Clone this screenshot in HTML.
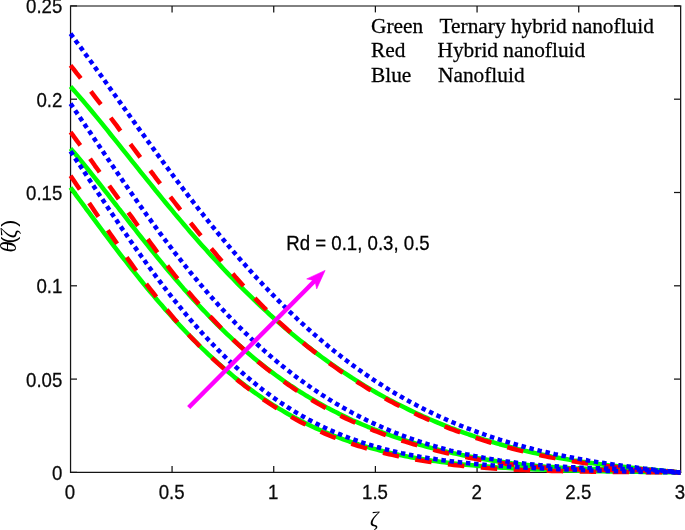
<!DOCTYPE html>
<html><head><meta charset="utf-8"><title>plot</title>
<style>html,body{margin:0;padding:0;background:#fff;overflow:hidden}svg{display:block}</style></head>
<body>
<svg width="685" height="530" viewBox="0 0 685 530">
<rect width="685" height="530" fill="#fff"/>
<g stroke="#141414" stroke-width="1.25" fill="none">
<line x1="70.55" y1="5.4" x2="70.55" y2="473.1"/>
<line x1="680.65" y1="5.4" x2="680.65" y2="473.1"/>
<line x1="70" y1="472.45" x2="681.2" y2="472.45"/>
</g>
<line x1="70" y1="5.95" x2="681.2" y2="5.95" stroke="#262626" stroke-opacity="0.58" stroke-width="2"/>
<g stroke="#141414" stroke-width="1.25">
<line x1="172.07" y1="472" x2="172.07" y2="466"/>
<line x1="172.07" y1="6" x2="172.07" y2="12.4"/>
<line x1="273.73" y1="472" x2="273.73" y2="466"/>
<line x1="273.73" y1="6" x2="273.73" y2="12.4"/>
<line x1="375.40" y1="472" x2="375.40" y2="466"/>
<line x1="375.40" y1="6" x2="375.40" y2="12.4"/>
<line x1="477.07" y1="472" x2="477.07" y2="466"/>
<line x1="477.07" y1="6" x2="477.07" y2="12.4"/>
<line x1="578.73" y1="472" x2="578.73" y2="466"/>
<line x1="578.73" y1="6" x2="578.73" y2="12.4"/>
<line x1="71" y1="472.40" x2="77" y2="472.40"/>
<line x1="680" y1="472.40" x2="674" y2="472.40"/>
<line x1="71" y1="379.10" x2="77" y2="379.10"/>
<line x1="680" y1="379.10" x2="674" y2="379.10"/>
<line x1="71" y1="285.80" x2="77" y2="285.80"/>
<line x1="680" y1="285.80" x2="674" y2="285.80"/>
<line x1="71" y1="192.50" x2="77" y2="192.50"/>
<line x1="680" y1="192.50" x2="674" y2="192.50"/>
<line x1="71" y1="99.20" x2="77" y2="99.20"/>
<line x1="680" y1="99.20" x2="674" y2="99.20"/>
<line x1="71" y1="5.90" x2="77" y2="5.90"/>
<line x1="680" y1="5.90" x2="674" y2="5.90"/>
</g>
<g fill="none" stroke-linejoin="round">
<path d="M70.5 187.5 L73.6 191.7 L76.6 195.8 L79.7 200.0 L82.8 204.1 L85.8 208.3 L88.9 212.4 L92.0 216.6 L95.0 220.7 L98.1 224.8 L101.2 229.0 L104.2 233.1 L107.3 237.1 L110.3 241.2 L113.4 245.3 L116.5 249.3 L119.5 253.3 L122.6 257.3 L125.7 261.2 L128.7 265.1 L131.8 269.0 L134.9 272.9 L137.9 276.7 L141.0 280.5 L144.1 284.3 L147.1 288.0 L150.2 291.7 L153.3 295.4 L156.3 299.0 L159.4 302.6 L162.5 306.1 L165.5 309.7 L168.6 313.1 L171.7 316.5 L174.7 319.9 L177.8 323.3 L180.9 326.6 L183.9 329.8 L187.0 333.0 L190.0 336.2 L193.1 339.3 L196.2 342.4 L199.2 345.5 L202.3 348.5 L205.4 351.4 L208.4 354.3 L211.5 357.2 L214.6 360.0 L217.6 362.7 L220.7 365.4 L223.8 368.1 L226.8 370.7 L229.9 373.3 L233.0 375.9 L236.0 378.4 L239.1 380.8 L242.2 383.2 L245.2 385.6 L248.3 387.9 L251.4 390.1 L254.4 392.4 L257.5 394.5 L260.6 396.7 L263.6 398.8 L266.7 400.8 L269.7 402.8 L272.8 404.8 L275.9 406.7 L278.9 408.6 L282.0 410.4 L285.1 412.2 L288.1 414.0 L291.2 415.7 L294.3 417.4 L297.3 419.0 L300.4 420.6 L303.5 422.2 L306.5 423.7 L309.6 425.2 L312.7 426.7 L315.7 428.1 L318.8 429.5 L321.9 430.8 L324.9 432.1 L328.0 433.4 L331.1 434.7 L334.1 435.9 L337.2 437.0 L340.2 438.2 L343.3 439.3 L346.4 440.4 L349.4 441.5 L352.5 442.5 L355.6 443.5 L358.6 444.5 L361.7 445.4 L364.8 446.3 L367.8 447.2 L370.9 448.1 L374.0 448.9 L377.0 449.7 L380.1 450.5 L383.2 451.3 L386.2 452.0 L389.3 452.7 L392.4 453.4 L395.4 454.1 L398.5 454.8 L401.6 455.4 L404.6 456.0 L407.7 456.6 L410.8 457.2 L413.8 457.7 L416.9 458.3 L419.9 458.8 L423.0 459.3 L426.1 459.8 L429.1 460.2 L432.2 460.7 L435.3 461.1 L438.3 461.5 L441.4 461.9 L444.5 462.3 L447.5 462.7 L450.6 463.1 L453.7 463.4 L456.7 463.8 L459.8 464.1 L462.9 464.4 L465.9 464.7 L469.0 465.0 L472.1 465.3 L475.1 465.6 L478.2 465.9 L481.3 466.1 L484.3 466.4 L487.4 466.6 L490.4 466.8 L493.5 467.0 L496.6 467.3 L499.6 467.5 L502.7 467.7 L505.8 467.8 L508.8 468.0 L511.9 468.2 L515.0 468.4 L518.0 468.5 L521.1 468.7 L524.2 468.8 L527.2 469.0 L530.3 469.1 L533.4 469.3 L536.4 469.4 L539.5 469.5 L542.6 469.6 L545.6 469.8 L548.7 469.9 L551.8 470.0 L554.8 470.1 L557.9 470.2 L561.0 470.3 L564.0 470.4 L567.1 470.5 L570.1 470.5 L573.2 470.6 L576.3 470.7 L579.3 470.8 L582.4 470.9 L585.5 470.9 L588.5 471.0 L591.6 471.1 L594.7 471.1 L597.7 471.2 L600.8 471.2 L603.9 471.3 L606.9 471.4 L610.0 471.4 L613.1 471.5 L616.1 471.5 L619.2 471.6 L622.3 471.6 L625.3 471.7 L628.4 471.7 L631.5 471.8 L634.5 471.8 L637.6 471.8 L640.7 471.9 L643.7 471.9 L646.8 472.0 L649.8 472.0 L652.9 472.1 L656.0 472.1 L659.0 472.1 L662.1 472.2 L665.2 472.2 L668.2 472.3 L671.3 472.3 L674.4 472.4 L677.4 472.4 L680.5 472.5" stroke="#00ff00" stroke-width="4.5"/>
<path d="M70.5 148.4 L73.6 151.9 L76.6 155.5 L79.7 159.2 L82.8 162.9 L85.8 166.7 L88.9 170.5 L92.0 174.3 L95.0 178.1 L98.1 182.0 L101.2 185.9 L104.2 189.8 L107.3 193.7 L110.3 197.7 L113.4 201.6 L116.5 205.5 L119.5 209.5 L122.6 213.4 L125.7 217.4 L128.7 221.3 L131.8 225.3 L134.9 229.2 L137.9 233.1 L141.0 237.0 L144.1 240.8 L147.1 244.7 L150.2 248.5 L153.3 252.3 L156.3 256.1 L159.4 259.9 L162.5 263.6 L165.5 267.3 L168.6 271.0 L171.7 274.6 L174.7 278.2 L177.8 281.8 L180.9 285.4 L183.9 288.9 L187.0 292.3 L190.0 295.8 L193.1 299.2 L196.2 302.5 L199.2 305.8 L202.3 309.1 L205.4 312.3 L208.4 315.5 L211.5 318.7 L214.6 321.8 L217.6 324.9 L220.7 327.9 L223.8 330.9 L226.8 333.8 L229.9 336.7 L233.0 339.6 L236.0 342.4 L239.1 345.2 L242.2 347.9 L245.2 350.6 L248.3 353.2 L251.4 355.9 L254.4 358.4 L257.5 360.9 L260.6 363.4 L263.6 365.8 L266.7 368.2 L269.7 370.6 L272.8 372.9 L275.9 375.2 L278.9 377.4 L282.0 379.6 L285.1 381.8 L288.1 383.9 L291.2 386.0 L294.3 388.0 L297.3 390.0 L300.4 392.0 L303.5 393.9 L306.5 395.8 L309.6 397.6 L312.7 399.5 L315.7 401.3 L318.8 403.0 L321.9 404.7 L324.9 406.4 L328.0 408.1 L331.1 409.7 L334.1 411.3 L337.2 412.8 L340.2 414.4 L343.3 415.8 L346.4 417.3 L349.4 418.8 L352.5 420.2 L355.6 421.5 L358.6 422.9 L361.7 424.2 L364.8 425.5 L367.8 426.8 L370.9 428.0 L374.0 429.3 L377.0 430.4 L380.1 431.6 L383.2 432.8 L386.2 433.9 L389.3 435.0 L392.4 436.1 L395.4 437.1 L398.5 438.1 L401.6 439.2 L404.6 440.1 L407.7 441.1 L410.8 442.1 L413.8 443.0 L416.9 443.9 L419.9 444.8 L423.0 445.6 L426.1 446.5 L429.1 447.3 L432.2 448.1 L435.3 448.9 L438.3 449.7 L441.4 450.4 L444.5 451.2 L447.5 451.9 L450.6 452.6 L453.7 453.3 L456.7 453.9 L459.8 454.6 L462.9 455.2 L465.9 455.8 L469.0 456.4 L472.1 457.0 L475.1 457.6 L478.2 458.2 L481.3 458.7 L484.3 459.2 L487.4 459.7 L490.4 460.2 L493.5 460.7 L496.6 461.2 L499.6 461.6 L502.7 462.0 L505.8 462.5 L508.8 462.9 L511.9 463.3 L515.0 463.6 L518.0 464.0 L521.1 464.4 L524.2 464.7 L527.2 465.0 L530.3 465.3 L533.4 465.6 L536.4 465.9 L539.5 466.2 L542.6 466.4 L545.6 466.7 L548.7 466.9 L551.8 467.1 L554.8 467.3 L557.9 467.5 L561.0 467.7 L564.0 467.9 L567.1 468.0 L570.1 468.2 L573.2 468.3 L576.3 468.5 L579.3 468.6 L582.4 468.7 L585.5 468.8 L588.5 468.9 L591.6 469.0 L594.7 469.1 L597.7 469.2 L600.8 469.3 L603.9 469.3 L606.9 469.4 L610.0 469.5 L613.1 469.5 L616.1 469.6 L619.2 469.6 L622.3 469.7 L625.3 469.8 L628.4 469.8 L631.5 469.9 L634.5 470.0 L637.6 470.0 L640.7 470.1 L643.7 470.2 L646.8 470.3 L649.8 470.4 L652.9 470.5 L656.0 470.7 L659.0 470.8 L662.1 471.0 L665.2 471.2 L668.2 471.4 L671.3 471.6 L674.4 471.9 L677.4 472.2 L680.5 472.5" stroke="#00ff00" stroke-width="4.5"/>
<path d="M70.5 86.4 L73.6 89.9 L76.6 93.4 L79.7 96.9 L82.8 100.5 L85.8 104.1 L88.9 107.8 L92.0 111.5 L95.0 115.2 L98.1 118.9 L101.2 122.6 L104.2 126.4 L107.3 130.2 L110.3 134.0 L113.4 137.8 L116.5 141.6 L119.5 145.4 L122.6 149.3 L125.7 153.1 L128.7 156.9 L131.8 160.8 L134.9 164.6 L137.9 168.4 L141.0 172.3 L144.1 176.1 L147.1 179.9 L150.2 183.7 L153.3 187.5 L156.3 191.3 L159.4 195.0 L162.5 198.8 L165.5 202.5 L168.6 206.2 L171.7 209.9 L174.7 213.6 L177.8 217.2 L180.9 220.9 L183.9 224.5 L187.0 228.1 L190.0 231.7 L193.1 235.2 L196.2 238.7 L199.2 242.2 L202.3 245.7 L205.4 249.1 L208.4 252.5 L211.5 255.9 L214.6 259.3 L217.6 262.6 L220.7 265.9 L223.8 269.2 L226.8 272.4 L229.9 275.6 L233.0 278.8 L236.0 281.9 L239.1 285.1 L242.2 288.1 L245.2 291.2 L248.3 294.2 L251.4 297.2 L254.4 300.2 L257.5 303.1 L260.6 306.0 L263.6 308.8 L266.7 311.7 L269.7 314.5 L272.8 317.2 L275.9 320.0 L278.9 322.7 L282.0 325.4 L285.1 328.0 L288.1 330.6 L291.2 333.2 L294.3 335.7 L297.3 338.2 L300.4 340.7 L303.5 343.1 L306.5 345.6 L309.6 347.9 L312.7 350.3 L315.7 352.6 L318.8 354.9 L321.9 357.2 L324.9 359.4 L328.0 361.6 L331.1 363.8 L334.1 365.9 L337.2 368.0 L340.2 370.1 L343.3 372.2 L346.4 374.2 L349.4 376.2 L352.5 378.2 L355.6 380.1 L358.6 382.0 L361.7 383.9 L364.8 385.8 L367.8 387.6 L370.9 389.4 L374.0 391.2 L377.0 393.0 L380.1 394.7 L383.2 396.4 L386.2 398.1 L389.3 399.7 L392.4 401.3 L395.4 402.9 L398.5 404.5 L401.6 406.1 L404.6 407.6 L407.7 409.1 L410.8 410.6 L413.8 412.0 L416.9 413.5 L419.9 414.9 L423.0 416.3 L426.1 417.6 L429.1 419.0 L432.2 420.3 L435.3 421.6 L438.3 422.9 L441.4 424.1 L444.5 425.4 L447.5 426.6 L450.6 427.8 L453.7 428.9 L456.7 430.1 L459.8 431.2 L462.9 432.3 L465.9 433.4 L469.0 434.5 L472.1 435.5 L475.1 436.6 L478.2 437.6 L481.3 438.6 L484.3 439.6 L487.4 440.5 L490.4 441.5 L493.5 442.4 L496.6 443.3 L499.6 444.2 L502.7 445.0 L505.8 445.9 L508.8 446.7 L511.9 447.5 L515.0 448.3 L518.0 449.1 L521.1 449.8 L524.2 450.6 L527.2 451.3 L530.3 452.0 L533.4 452.7 L536.4 453.4 L539.5 454.1 L542.6 454.7 L545.6 455.3 L548.7 456.0 L551.8 456.6 L554.8 457.1 L557.9 457.7 L561.0 458.3 L564.0 458.8 L567.1 459.3 L570.1 459.9 L573.2 460.4 L576.3 460.8 L579.3 461.3 L582.4 461.8 L585.5 462.2 L588.5 462.7 L591.6 463.1 L594.7 463.5 L597.7 463.9 L600.8 464.3 L603.9 464.7 L606.9 465.1 L610.0 465.4 L613.1 465.8 L616.1 466.1 L619.2 466.5 L622.3 466.8 L625.3 467.1 L628.4 467.5 L631.5 467.8 L634.5 468.1 L637.6 468.4 L640.7 468.7 L643.7 469.0 L646.8 469.3 L649.8 469.5 L652.9 469.8 L656.0 470.1 L659.0 470.4 L662.1 470.7 L665.2 471.0 L668.2 471.3 L671.3 471.6 L674.4 471.9 L677.4 472.2 L680.5 472.5" stroke="#00ff00" stroke-width="4.5"/>
<path d="M70.5 175.8 L73.6 180.3 L76.6 184.8 L79.7 189.3 L82.8 193.8 L85.8 198.3 L88.9 202.8 L92.0 207.3 L95.0 211.8 L98.1 216.3 L101.2 220.8 L104.2 225.2 L107.3 229.6 L110.3 234.0 L113.4 238.4 L116.5 242.8 L119.5 247.2 L122.6 251.6 L125.7 255.9 L128.7 260.2 L131.8 264.4 L134.9 268.7 L137.9 272.9 L141.0 277.0 L144.1 281.1 L147.1 285.1 L150.2 289.1 L153.3 293.0 L156.3 296.9 L159.4 300.7 L162.5 304.5 L165.5 308.2 L168.6 311.9 L171.7 315.6 L174.7 319.2 L177.8 322.7 L180.9 326.1 L183.9 329.6 L187.0 332.9 L190.0 336.2 L193.1 339.4 L196.2 342.5 L199.2 345.6 L202.3 348.6 L205.4 351.6 L208.4 354.6 L211.5 357.5 L214.6 360.3 L217.6 363.1 L220.7 365.8 L223.8 368.6 L226.8 371.2 L229.9 373.8 L233.0 376.4 L236.0 378.9 L239.1 381.4 L242.2 383.8 L245.2 386.2 L248.3 388.5 L251.4 390.8 L254.4 393.1 L257.5 395.3 L260.6 397.5 L263.6 399.6 L266.7 401.7 L269.7 403.7 L272.8 405.7 L275.9 407.7 L278.9 409.6 L282.0 411.5 L285.1 413.3 L288.1 415.1 L291.2 416.9 L294.3 418.6 L297.3 420.3 L300.4 421.9 L303.5 423.5 L306.5 425.1 L309.6 426.6 L312.7 428.1 L315.7 429.5 L318.8 430.9 L321.9 432.3 L324.9 433.6 L328.0 434.9 L331.1 436.2 L334.1 437.4 L337.2 438.5 L340.2 439.7 L343.3 440.8 L346.4 441.9 L349.4 443.0 L352.5 444.0 L355.6 445.0 L358.6 446.0 L361.7 446.9 L364.8 447.8 L367.8 448.7 L370.9 449.6 L374.0 450.4 L377.0 451.2 L380.1 452.0 L383.2 452.8 L386.2 453.5 L389.3 454.2 L392.4 454.9 L395.4 455.6 L398.5 456.3 L401.6 456.9 L404.6 457.5 L407.7 458.1 L410.8 458.7 L413.8 459.2 L416.9 459.8 L419.9 460.3 L423.0 460.8 L426.1 461.3 L429.1 461.7 L432.2 462.2 L435.3 462.6 L438.3 463.0 L441.4 463.4 L444.5 463.8 L447.5 464.2 L450.6 464.6 L453.7 464.9 L456.7 465.3 L459.8 465.6 L462.9 465.9 L465.9 466.2 L469.0 466.5 L472.1 466.8 L475.1 467.1 L478.2 467.4 L481.3 467.6 L484.3 467.8 L487.4 468.1 L490.4 468.3 L493.5 468.5 L496.6 468.7 L499.6 468.9 L502.7 469.1 L505.8 469.2 L508.8 469.4 L511.9 469.5 L515.0 469.7 L518.0 469.8 L521.1 470.0 L524.2 470.1 L527.2 470.2 L530.3 470.3 L533.4 470.4 L536.4 470.5 L539.5 470.6 L542.6 470.7 L545.6 470.8 L548.7 470.8 L551.8 470.9 L554.8 471.0 L557.9 471.1 L561.0 471.1 L564.0 471.2 L567.1 471.3 L570.1 471.3 L573.2 471.4 L576.3 471.4 L579.3 471.5 L582.4 471.5 L585.5 471.6 L588.5 471.6 L591.6 471.7 L594.7 471.7 L597.7 471.7 L600.8 471.8 L603.9 471.8 L606.9 471.9 L610.0 471.9 L613.1 471.9 L616.1 471.9 L619.2 472.0 L622.3 472.0 L625.3 472.0 L628.4 472.1 L631.5 472.1 L634.5 472.1 L637.6 472.1 L640.7 472.1 L643.7 472.2 L646.8 472.2 L649.8 472.2 L652.9 472.2 L656.0 472.3 L659.0 472.3 L662.1 472.3 L665.2 472.3 L668.2 472.4 L671.3 472.4 L674.4 472.4 L677.4 472.5 L680.5 472.5" stroke="#ff0000" stroke-width="4.5" stroke-dasharray="16.5 16.5"/>
<path d="M70.5 132.2 L73.6 136.2 L76.6 140.4 L79.7 144.5 L82.8 148.7 L85.8 153.0 L88.9 157.2 L92.0 161.5 L95.0 165.8 L98.1 170.0 L101.2 174.4 L104.2 178.7 L107.3 183.0 L110.3 187.3 L113.4 191.6 L116.5 195.9 L119.5 200.2 L122.6 204.5 L125.7 208.7 L128.7 213.0 L131.8 217.2 L134.9 221.5 L137.9 225.7 L141.0 229.9 L144.1 234.1 L147.1 238.3 L150.2 242.5 L153.3 246.7 L156.3 250.9 L159.4 255.1 L162.5 259.2 L165.5 263.3 L168.6 267.3 L171.7 271.3 L174.7 275.2 L177.8 279.0 L180.9 282.7 L183.9 286.5 L187.0 290.1 L190.0 293.8 L193.1 297.4 L196.2 300.9 L199.2 304.4 L202.3 307.8 L205.4 311.2 L208.4 314.6 L211.5 317.9 L214.6 321.1 L217.6 324.3 L220.7 327.5 L223.8 330.6 L226.8 333.6 L229.9 336.6 L233.0 339.5 L236.0 342.4 L239.1 345.3 L242.2 348.0 L245.2 350.8 L248.3 353.5 L251.4 356.1 L254.4 358.7 L257.5 361.3 L260.6 363.8 L263.6 366.3 L266.7 368.7 L269.7 371.1 L272.8 373.5 L275.9 375.8 L278.9 378.1 L282.0 380.3 L285.1 382.5 L288.1 384.6 L291.2 386.7 L294.3 388.8 L297.3 390.8 L300.4 392.8 L303.5 394.8 L306.5 396.7 L309.6 398.6 L312.7 400.5 L315.7 402.3 L318.8 404.1 L321.9 405.8 L324.9 407.5 L328.0 409.2 L331.1 410.9 L334.1 412.5 L337.2 414.1 L340.2 415.6 L343.3 417.1 L346.4 418.6 L349.4 420.0 L352.5 421.5 L355.6 422.8 L358.6 424.2 L361.7 425.5 L364.8 426.8 L367.8 428.1 L370.9 429.3 L374.0 430.6 L377.0 431.7 L380.1 432.9 L383.2 434.1 L386.2 435.2 L389.3 436.3 L392.4 437.4 L395.4 438.4 L398.5 439.4 L401.6 440.5 L404.6 441.4 L407.7 442.4 L410.8 443.4 L413.8 444.3 L416.9 445.2 L419.9 446.1 L423.0 446.9 L426.1 447.8 L429.1 448.6 L432.2 449.4 L435.3 450.2 L438.3 451.0 L441.4 451.7 L444.5 452.5 L447.5 453.2 L450.6 453.9 L453.7 454.6 L456.7 455.2 L459.8 455.9 L462.9 456.5 L465.9 457.1 L469.0 457.7 L472.1 458.3 L475.1 458.9 L478.2 459.5 L481.3 460.0 L484.3 460.5 L487.4 461.0 L490.4 461.5 L493.5 462.0 L496.6 462.5 L499.6 462.9 L502.7 463.3 L505.8 463.8 L508.8 464.2 L511.9 464.5 L515.0 464.9 L518.0 465.3 L521.1 465.6 L524.2 465.9 L527.2 466.2 L530.3 466.5 L533.4 466.8 L536.4 467.0 L539.5 467.3 L542.6 467.5 L545.6 467.7 L548.7 467.9 L551.8 468.1 L554.8 468.3 L557.9 468.5 L561.0 468.6 L564.0 468.8 L567.1 468.9 L570.1 469.0 L573.2 469.2 L576.3 469.3 L579.3 469.4 L582.4 469.4 L585.5 469.5 L588.5 469.6 L591.6 469.7 L594.7 469.7 L597.7 469.8 L600.8 469.8 L603.9 469.9 L606.9 469.9 L610.0 470.0 L613.1 470.0 L616.1 470.1 L619.2 470.1 L622.3 470.1 L625.3 470.2 L628.4 470.2 L631.5 470.2 L634.5 470.3 L637.6 470.3 L640.7 470.4 L643.7 470.5 L646.8 470.6 L649.8 470.6 L652.9 470.7 L656.0 470.9 L659.0 471.0 L662.1 471.1 L665.2 471.3 L668.2 471.5 L671.3 471.7 L674.4 471.9 L677.4 472.2 L680.5 472.5" stroke="#ff0000" stroke-width="4.5" stroke-dasharray="16.5 16.5"/>
<path d="M70.5 65.4 L73.6 69.2 L76.6 73.1 L79.7 76.9 L82.8 80.9 L85.8 84.8 L88.9 88.8 L92.0 92.8 L95.0 96.8 L98.1 100.9 L101.2 104.9 L104.2 109.0 L107.3 113.1 L110.3 117.2 L113.4 121.3 L116.5 125.4 L119.5 129.6 L122.6 133.7 L125.7 137.8 L128.7 141.9 L131.8 146.0 L134.9 150.1 L137.9 154.2 L141.0 158.3 L144.1 162.4 L147.1 166.4 L150.2 170.5 L153.3 174.5 L156.3 178.6 L159.4 182.6 L162.5 186.6 L165.5 190.6 L168.6 194.6 L171.7 198.6 L174.7 202.5 L177.8 206.5 L180.9 210.4 L183.9 214.3 L187.0 218.2 L190.0 222.1 L193.1 226.0 L196.2 229.8 L199.2 233.6 L202.3 237.5 L205.4 241.2 L208.4 245.0 L211.5 248.8 L214.6 252.5 L217.6 256.2 L220.7 259.8 L223.8 263.5 L226.8 267.1 L229.9 270.6 L233.0 274.1 L236.0 277.6 L239.1 281.0 L242.2 284.4 L245.2 287.8 L248.3 291.1 L251.4 294.4 L254.4 297.7 L257.5 300.9 L260.6 304.0 L263.6 307.1 L266.7 310.1 L269.7 313.1 L272.8 316.1 L275.9 319.0 L278.9 321.9 L282.0 324.7 L285.1 327.5 L288.1 330.2 L291.2 332.8 L294.3 335.5 L297.3 338.1 L300.4 340.6 L303.5 343.2 L306.5 345.7 L309.6 348.1 L312.7 350.6 L315.7 352.9 L318.8 355.3 L321.9 357.6 L324.9 359.9 L328.0 362.1 L331.1 364.4 L334.1 366.5 L337.2 368.7 L340.2 370.8 L343.3 372.9 L346.4 374.9 L349.4 376.9 L352.5 378.9 L355.6 380.9 L358.6 382.8 L361.7 384.7 L364.8 386.6 L367.8 388.5 L370.9 390.3 L374.0 392.1 L377.0 393.9 L380.1 395.6 L383.2 397.3 L386.2 399.0 L389.3 400.7 L392.4 402.3 L395.4 403.9 L398.5 405.5 L401.6 407.1 L404.6 408.6 L407.7 410.1 L410.8 411.6 L413.8 413.0 L416.9 414.5 L419.9 415.9 L423.0 417.3 L426.1 418.6 L429.1 420.0 L432.2 421.3 L435.3 422.6 L438.3 423.9 L441.4 425.1 L444.5 426.4 L447.5 427.6 L450.6 428.8 L453.7 429.9 L456.7 431.1 L459.8 432.2 L462.9 433.3 L465.9 434.4 L469.0 435.5 L472.1 436.5 L475.1 437.6 L478.2 438.6 L481.3 439.6 L484.3 440.6 L487.4 441.5 L490.4 442.5 L493.5 443.4 L496.6 444.3 L499.6 445.2 L502.7 446.0 L505.8 446.9 L508.8 447.7 L511.9 448.5 L515.0 449.3 L518.0 450.1 L521.1 450.8 L524.2 451.6 L527.2 452.3 L530.3 453.0 L533.4 453.7 L536.4 454.4 L539.5 455.1 L542.6 455.7 L545.6 456.3 L548.7 457.0 L551.8 457.6 L554.8 458.1 L557.9 458.7 L561.0 459.3 L564.0 459.8 L567.1 460.3 L570.1 460.8 L573.2 461.3 L576.3 461.8 L579.3 462.3 L582.4 462.7 L585.5 463.2 L588.5 463.6 L591.6 464.0 L594.7 464.4 L597.7 464.8 L600.8 465.2 L603.9 465.5 L606.9 465.9 L610.0 466.2 L613.1 466.5 L616.1 466.9 L619.2 467.2 L622.3 467.5 L625.3 467.8 L628.4 468.0 L631.5 468.3 L634.5 468.6 L637.6 468.9 L640.7 469.1 L643.7 469.4 L646.8 469.7 L649.8 469.9 L652.9 470.2 L656.0 470.4 L659.0 470.7 L662.1 470.9 L665.2 471.2 L668.2 471.4 L671.3 471.7 L674.4 472.0 L677.4 472.2 L680.5 472.5" stroke="#ff0000" stroke-width="4.5" stroke-dasharray="16.5 16.5"/>
<path d="M70.5 151.3 L73.6 155.9 L76.6 160.5 L79.7 165.1 L82.8 169.7 L85.8 174.3 L88.9 179.0 L92.0 183.6 L95.0 188.2 L98.1 192.9 L101.2 197.5 L104.2 202.1 L107.3 206.7 L110.3 211.2 L113.4 215.8 L116.5 220.3 L119.5 224.9 L122.6 229.4 L125.7 233.8 L128.7 238.3 L131.8 242.7 L134.9 247.1 L137.9 251.4 L141.0 255.8 L144.1 260.0 L147.1 264.3 L150.2 268.5 L153.3 272.7 L156.3 276.8 L159.4 280.9 L162.5 284.9 L165.5 288.9 L168.6 292.9 L171.7 296.8 L174.7 300.6 L177.8 304.4 L180.9 308.2 L183.9 311.9 L187.0 315.6 L190.0 319.2 L193.1 322.8 L196.2 326.3 L199.2 329.7 L202.3 333.2 L205.4 336.5 L208.4 339.8 L211.5 343.1 L214.6 346.3 L217.6 349.4 L220.7 352.5 L223.8 355.6 L226.8 358.6 L229.9 361.5 L233.0 364.4 L236.0 367.2 L239.1 370.0 L242.2 372.7 L245.2 375.4 L248.3 378.0 L251.4 380.6 L254.4 383.1 L257.5 385.6 L260.6 388.0 L263.6 390.4 L266.7 392.7 L269.7 394.9 L272.8 397.2 L275.9 399.3 L278.9 401.4 L282.0 403.5 L285.1 405.5 L288.1 407.5 L291.2 409.4 L294.3 411.3 L297.3 413.2 L300.4 415.0 L303.5 416.7 L306.5 418.4 L309.6 420.1 L312.7 421.7 L315.7 423.3 L318.8 424.8 L321.9 426.3 L324.9 427.7 L328.0 429.2 L331.1 430.5 L334.1 431.9 L337.2 433.2 L340.2 434.4 L343.3 435.7 L346.4 436.9 L349.4 438.0 L352.5 439.1 L355.6 440.2 L358.6 441.3 L361.7 442.3 L364.8 443.3 L367.8 444.3 L370.9 445.2 L374.0 446.1 L377.0 447.0 L380.1 447.8 L383.2 448.7 L386.2 449.5 L389.3 450.2 L392.4 451.0 L395.4 451.7 L398.5 452.4 L401.6 453.1 L404.6 453.7 L407.7 454.4 L410.8 455.0 L413.8 455.6 L416.9 456.1 L419.9 456.7 L423.0 457.2 L426.1 457.7 L429.1 458.2 L432.2 458.7 L435.3 459.1 L438.3 459.6 L441.4 460.0 L444.5 460.4 L447.5 460.8 L450.6 461.2 L453.7 461.6 L456.7 462.0 L459.8 462.3 L462.9 462.7 L465.9 463.0 L469.0 463.3 L472.1 463.6 L475.1 463.9 L478.2 464.2 L481.3 464.4 L484.3 464.7 L487.4 465.0 L490.4 465.2 L493.5 465.5 L496.6 465.7 L499.6 465.9 L502.7 466.1 L505.8 466.3 L508.8 466.6 L511.9 466.8 L515.0 466.9 L518.0 467.1 L521.1 467.3 L524.2 467.5 L527.2 467.7 L530.3 467.8 L533.4 468.0 L536.4 468.2 L539.5 468.3 L542.6 468.5 L545.6 468.6 L548.7 468.8 L551.8 468.9 L554.8 469.0 L557.9 469.2 L561.0 469.3 L564.0 469.4 L567.1 469.5 L570.1 469.7 L573.2 469.8 L576.3 469.9 L579.3 470.0 L582.4 470.1 L585.5 470.2 L588.5 470.3 L591.6 470.4 L594.7 470.5 L597.7 470.6 L600.8 470.7 L603.9 470.8 L606.9 470.9 L610.0 471.0 L613.1 471.1 L616.1 471.2 L619.2 471.3 L622.3 471.3 L625.3 471.4 L628.4 471.5 L631.5 471.6 L634.5 471.6 L637.6 471.7 L640.7 471.8 L643.7 471.8 L646.8 471.9 L649.8 472.0 L652.9 472.0 L656.0 472.1 L659.0 472.1 L662.1 472.2 L665.2 472.2 L668.2 472.3 L671.3 472.3 L674.4 472.4 L677.4 472.5 L680.5 472.5" stroke="#0000ff" stroke-width="4.5" stroke-dasharray="4.5 3.73"/>
<path d="M70.5 103.6 L73.6 108.1 L76.6 112.6 L79.7 117.1 L82.8 121.6 L85.8 126.2 L88.9 130.7 L92.0 135.3 L95.0 139.8 L98.1 144.4 L101.2 148.9 L104.2 153.5 L107.3 158.0 L110.3 162.5 L113.4 167.0 L116.5 171.5 L119.5 176.0 L122.6 180.5 L125.7 185.0 L128.7 189.4 L131.8 193.8 L134.9 198.2 L137.9 202.6 L141.0 206.9 L144.1 211.2 L147.1 215.5 L150.2 219.7 L153.3 224.0 L156.3 228.1 L159.4 232.3 L162.5 236.4 L165.5 240.5 L168.6 244.6 L171.7 248.6 L174.7 252.6 L177.8 256.5 L180.9 260.4 L183.9 264.3 L187.0 268.1 L190.0 271.9 L193.1 275.6 L196.2 279.3 L199.2 283.0 L202.3 286.6 L205.4 290.2 L208.4 293.8 L211.5 297.2 L214.6 300.7 L217.6 304.1 L220.7 307.5 L223.8 310.8 L226.8 314.1 L229.9 317.3 L233.0 320.5 L236.0 323.7 L239.1 326.8 L242.2 329.8 L245.2 332.8 L248.3 335.8 L251.4 338.8 L254.4 341.6 L257.5 344.5 L260.6 347.3 L263.6 350.1 L266.7 352.8 L269.7 355.5 L272.8 358.1 L275.9 360.7 L278.9 363.2 L282.0 365.7 L285.1 368.2 L288.1 370.6 L291.2 373.0 L294.3 375.4 L297.3 377.7 L300.4 380.0 L303.5 382.2 L306.5 384.4 L309.6 386.5 L312.7 388.7 L315.7 390.7 L318.8 392.8 L321.9 394.8 L324.9 396.7 L328.0 398.7 L331.1 400.6 L334.1 402.4 L337.2 404.3 L340.2 406.0 L343.3 407.8 L346.4 409.5 L349.4 411.2 L352.5 412.9 L355.6 414.5 L358.6 416.1 L361.7 417.6 L364.8 419.2 L367.8 420.7 L370.9 422.1 L374.0 423.6 L377.0 425.0 L380.1 426.3 L383.2 427.7 L386.2 429.0 L389.3 430.3 L392.4 431.5 L395.4 432.8 L398.5 434.0 L401.6 435.2 L404.6 436.3 L407.7 437.4 L410.8 438.5 L413.8 439.6 L416.9 440.6 L419.9 441.7 L423.0 442.7 L426.1 443.6 L429.1 444.6 L432.2 445.5 L435.3 446.4 L438.3 447.3 L441.4 448.1 L444.5 449.0 L447.5 449.8 L450.6 450.6 L453.7 451.3 L456.7 452.1 L459.8 452.8 L462.9 453.5 L465.9 454.2 L469.0 454.8 L472.1 455.5 L475.1 456.1 L478.2 456.7 L481.3 457.3 L484.3 457.9 L487.4 458.4 L490.4 458.9 L493.5 459.4 L496.6 459.9 L499.6 460.4 L502.7 460.8 L505.8 461.3 L508.8 461.7 L511.9 462.1 L515.0 462.5 L518.0 462.9 L521.1 463.2 L524.2 463.6 L527.2 463.9 L530.3 464.2 L533.4 464.5 L536.4 464.8 L539.5 465.1 L542.6 465.3 L545.6 465.6 L548.7 465.8 L551.8 466.0 L554.8 466.2 L557.9 466.4 L561.0 466.6 L564.0 466.8 L567.1 467.0 L570.1 467.1 L573.2 467.3 L576.3 467.4 L579.3 467.6 L582.4 467.7 L585.5 467.8 L588.5 467.9 L591.6 468.0 L594.7 468.1 L597.7 468.2 L600.8 468.3 L603.9 468.4 L606.9 468.5 L610.0 468.6 L613.1 468.7 L616.1 468.8 L619.2 468.8 L622.3 468.9 L625.3 469.0 L628.4 469.1 L631.5 469.2 L634.5 469.3 L637.6 469.5 L640.7 469.6 L643.7 469.7 L646.8 469.9 L649.8 470.0 L652.9 470.2 L656.0 470.4 L659.0 470.6 L662.1 470.8 L665.2 471.0 L668.2 471.3 L671.3 471.5 L674.4 471.8 L677.4 472.2 L680.5 472.5" stroke="#0000ff" stroke-width="4.5" stroke-dasharray="4.5 3.73"/>
<path d="M70.5 33.7 L73.6 37.8 L76.6 42.0 L79.7 46.1 L82.8 50.3 L85.8 54.6 L88.9 58.8 L92.0 63.0 L95.0 67.3 L98.1 71.6 L101.2 75.8 L104.2 80.1 L107.3 84.4 L110.3 88.7 L113.4 93.0 L116.5 97.3 L119.5 101.6 L122.6 105.9 L125.7 110.2 L128.7 114.5 L131.8 118.8 L134.9 123.1 L137.9 127.4 L141.0 131.7 L144.1 135.9 L147.1 140.2 L150.2 144.4 L153.3 148.6 L156.3 152.9 L159.4 157.1 L162.5 161.2 L165.5 165.4 L168.6 169.5 L171.7 173.7 L174.7 177.8 L177.8 181.9 L180.9 185.9 L183.9 190.0 L187.0 194.0 L190.0 198.0 L193.1 201.9 L196.2 205.9 L199.2 209.8 L202.3 213.7 L205.4 217.6 L208.4 221.4 L211.5 225.2 L214.6 229.0 L217.6 232.8 L220.7 236.5 L223.8 240.2 L226.8 243.8 L229.9 247.5 L233.0 251.1 L236.0 254.6 L239.1 258.2 L242.2 261.7 L245.2 265.1 L248.3 268.6 L251.4 272.0 L254.4 275.4 L257.5 278.7 L260.6 282.0 L263.6 285.3 L266.7 288.5 L269.7 291.7 L272.8 294.9 L275.9 298.0 L278.9 301.1 L282.0 304.2 L285.1 307.2 L288.1 310.2 L291.2 313.2 L294.3 316.1 L297.3 319.0 L300.4 321.9 L303.5 324.7 L306.5 327.5 L309.6 330.2 L312.7 332.9 L315.7 335.6 L318.8 338.3 L321.9 340.9 L324.9 343.4 L328.0 346.0 L331.1 348.5 L334.1 351.0 L337.2 353.4 L340.2 355.8 L343.3 358.2 L346.4 360.5 L349.4 362.8 L352.5 365.1 L355.6 367.3 L358.6 369.5 L361.7 371.7 L364.8 373.8 L367.8 375.9 L370.9 378.0 L374.0 380.1 L377.0 382.1 L380.1 384.0 L383.2 386.0 L386.2 387.9 L389.3 389.8 L392.4 391.7 L395.4 393.5 L398.5 395.3 L401.6 397.0 L404.6 398.8 L407.7 400.5 L410.8 402.2 L413.8 403.8 L416.9 405.4 L419.9 407.0 L423.0 408.6 L426.1 410.1 L429.1 411.6 L432.2 413.1 L435.3 414.6 L438.3 416.0 L441.4 417.4 L444.5 418.8 L447.5 420.1 L450.6 421.5 L453.7 422.8 L456.7 424.0 L459.8 425.3 L462.9 426.5 L465.9 427.7 L469.0 428.9 L472.1 430.1 L475.1 431.2 L478.2 432.4 L481.3 433.4 L484.3 434.5 L487.4 435.6 L490.4 436.6 L493.5 437.6 L496.6 438.6 L499.6 439.6 L502.7 440.5 L505.8 441.5 L508.8 442.4 L511.9 443.3 L515.0 444.2 L518.0 445.0 L521.1 445.9 L524.2 446.7 L527.2 447.5 L530.3 448.3 L533.4 449.1 L536.4 449.8 L539.5 450.6 L542.6 451.3 L545.6 452.0 L548.7 452.7 L551.8 453.4 L554.8 454.1 L557.9 454.7 L561.0 455.4 L564.0 456.0 L567.1 456.6 L570.1 457.2 L573.2 457.8 L576.3 458.4 L579.3 458.9 L582.4 459.5 L585.5 460.0 L588.5 460.6 L591.6 461.1 L594.7 461.6 L597.7 462.1 L600.8 462.6 L603.9 463.0 L606.9 463.5 L610.0 464.0 L613.1 464.4 L616.1 464.9 L619.2 465.3 L622.3 465.7 L625.3 466.1 L628.4 466.5 L631.5 466.9 L634.5 467.3 L637.6 467.7 L640.7 468.1 L643.7 468.5 L646.8 468.8 L649.8 469.2 L652.9 469.6 L656.0 469.9 L659.0 470.2 L662.1 470.6 L665.2 470.9 L668.2 471.2 L671.3 471.6 L674.4 471.9 L677.4 472.2 L680.5 472.5" stroke="#0000ff" stroke-width="4.5" stroke-dasharray="4.5 3.73"/>
</g>
<line x1="188.7" y1="407.5" x2="315.6" y2="280.0" stroke="#ff00ff" stroke-width="4.5"/>
<polygon points="325.1,270.4 306.7,278.9 314.9,280.7 316.7,288.9" fill="#ff00ff" stroke="#ff00ff" stroke-width="0.6" stroke-linejoin="round"/>
<g font-family="'Liberation Sans', sans-serif">
<text transform="translate(70.0,499.3) scale(1.008,1.07)" text-anchor="middle" fill="#0a0a0a" stroke="#0a0a0a" stroke-width="0.25" font-size="18.5">0</text>
<text transform="translate(171.7,499.3) scale(1.008,1.07)" text-anchor="middle" fill="#0a0a0a" stroke="#0a0a0a" stroke-width="0.25" font-size="18.5">0.5</text>
<text transform="translate(273.3,499.3) scale(1.008,1.07)" text-anchor="middle" fill="#0a0a0a" stroke="#0a0a0a" stroke-width="0.25" font-size="18.5">1</text>
<text transform="translate(375.0,499.3) scale(1.008,1.07)" text-anchor="middle" fill="#0a0a0a" stroke="#0a0a0a" stroke-width="0.25" font-size="18.5">1.5</text>
<text transform="translate(476.7,499.3) scale(1.008,1.07)" text-anchor="middle" fill="#0a0a0a" stroke="#0a0a0a" stroke-width="0.25" font-size="18.5">2</text>
<text transform="translate(578.3,499.3) scale(1.008,1.07)" text-anchor="middle" fill="#0a0a0a" stroke="#0a0a0a" stroke-width="0.25" font-size="18.5">2.5</text>
<text transform="translate(680.0,499.3) scale(1.008,1.07)" text-anchor="middle" fill="#0a0a0a" stroke="#0a0a0a" stroke-width="0.25" font-size="18.5">3</text>
<text transform="translate(62.3,479.9) scale(1.008,1.07)" text-anchor="end" fill="#0a0a0a" stroke="#0a0a0a" stroke-width="0.25" font-size="18.5">0</text>
<text transform="translate(62.3,386.6) scale(1.008,1.07)" text-anchor="end" fill="#0a0a0a" stroke="#0a0a0a" stroke-width="0.25" font-size="18.5">0.05</text>
<text transform="translate(62.3,293.3) scale(1.008,1.07)" text-anchor="end" fill="#0a0a0a" stroke="#0a0a0a" stroke-width="0.25" font-size="18.5">0.1</text>
<text transform="translate(62.3,200.0) scale(1.008,1.07)" text-anchor="end" fill="#0a0a0a" stroke="#0a0a0a" stroke-width="0.25" font-size="18.5">0.15</text>
<text transform="translate(62.3,106.7) scale(1.008,1.07)" text-anchor="end" fill="#0a0a0a" stroke="#0a0a0a" stroke-width="0.25" font-size="18.5">0.2</text>
<text transform="translate(62.3,13.4) scale(1.008,1.07)" text-anchor="end" fill="#0a0a0a" stroke="#0a0a0a" stroke-width="0.25" font-size="18.5">0.25</text>
<text transform="translate(286.2,249.8) scale(1.008,1.07)" text-anchor="start" fill="#000" stroke="#000" stroke-width="0.25" font-size="18.5">Rd = 0.1, 0.3, 0.5</text>
</g>
<g font-family="'Liberation Serif', serif" font-size="20" fill="#000" stroke="#000" stroke-width="0.25">
<text transform="translate(371,33) scale(1.068,1)">Green</text><text transform="translate(439.5,33) scale(1.068,1)">Ternary hybrid nanofluid</text>
<text transform="translate(371,57.3) scale(1.068,1)">Red</text><text transform="translate(437.5,57.3) scale(1.068,1)">Hybrid nanofluid</text>
<text transform="translate(371,81.6) scale(1.068,1)">Blue</text><text transform="translate(438,81.6) scale(1.068,1)">Nanofluid</text>
</g>
<text x="370" y="526.3" font-family="'Liberation Serif', serif" font-style="italic" font-size="21" fill="#000">ζ</text>
<text transform="translate(16.4,252.6) rotate(-90)" font-family="'Liberation Serif', serif" font-size="22.5" fill="#000"><tspan font-style="italic">θ</tspan><tspan dx="-1.9" font-family="'Liberation Sans', sans-serif" font-size="21">(</tspan><tspan dx="-1.7" font-style="italic">ζ</tspan><tspan dx="2.2" font-family="'Liberation Sans', sans-serif" font-size="21">)</tspan></text>
</svg>
</body></html>
